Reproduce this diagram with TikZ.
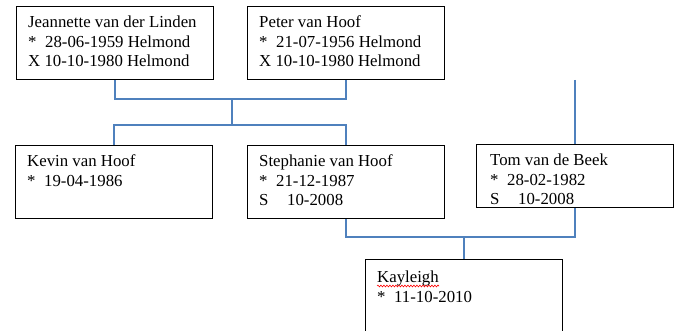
\documentclass[tikz,border=0pt]{standalone}
\usepackage{fontspec}
\setmainfont{Liberation Serif}
\usetikzlibrary{decorations.pathmorphing}

\definecolor{lijnblauw}{RGB}{79,129,189}
\newcommand{\geb}{\makebox[17pt][l]{*}}
\newcommand{\sam}{\makebox[28pt][l]{S}}

\tikzset{
    persoon/.style={draw=black, line width=1.1pt, anchor=north west, inner sep=0pt,
        minimum width=197pt, minimum height=73pt},
    tekst/.style={anchor=north west, inner sep=0pt, align=left,
        font=\fontsize{16.8}{19.3}\selectfont},
    lijn/.style={draw=lijnblauw, line width=1.3pt},
    kronkel/.style={draw=red, line width=0.6pt,
        decorate, decoration={snake, amplitude=0.9pt, segment length=3pt}}
}

\begin{document}
\begin{tikzpicture}[x=1pt, y=-1pt]
        \clip (0,0) rectangle (678,331);

        % ouders
        \node[persoon] (jeannette) at (16,6) {};
        \node[persoon] (peter) at (247,6) {};
        \node[tekst] (jeannette-t) at ([shift={(12,8)}]jeannette.north west)
            {\strut Jeannette van der Linden\\ \geb 28-06-1959 Helmond\\ X 10-10-1980 Helmond};
        \node[tekst] (peter-t) at ([shift={(12,8)}]peter.north west)
            {\strut Peter van Hoof\\ \geb 21-07-1956 Helmond\\ X 10-10-1980 Helmond};

        % kinderen
        \node[persoon] (kevin) at (15,145) {};
        \node[persoon] (stephanie) at (247,145) {};
        \node[persoon, minimum height=63pt] (tom) at (476,144) {};
        \node[tekst] (kevin-t) at ([shift={(12,8)}]kevin.north west)
            {\strut Kevin van Hoof\\ \geb 19-04-1986};
        \node[tekst] (stephanie-t) at ([shift={(12,8)}]stephanie.north west)
            {\strut Stephanie van Hoof\\ \geb 21-12-1987\\ \sam 10-2008};
        \node[tekst] (tom-t) at ([shift={(14,8)}]tom.north west)
            {\strut Tom van de Beek\\ \geb 28-02-1982\\ \sam 10-2008};

        % kleinkind
        \node[persoon] (kayleigh) at (365,259) {};
        \node[tekst] (kayleigh-t) at ([shift={(12,10)}]kayleigh.north west)
            {\strut Kayleigh\\ \geb 11-10-2010};
        \draw[kronkel] ([shift={(0,17)}]kayleigh-t.north west) -- ++(62,0);

        \coordinate (ouders) at (232,99);
        \coordinate (kinderen) at (232,125);
        \coordinate (stel) at (kayleigh.north |- 0,237);
        \coordinate (tomtop) at (tom.north |- 0,80);

        \draw[lijn] (jeannette.south) |- (ouders) -| (peter.south);
        \draw[lijn] (ouders) -- (kinderen);
        \draw[lijn] (kevin.north) |- (kinderen) -| (stephanie.north);
        \draw[lijn] (tomtop) -- (tom.north);
        \draw[lijn] (stephanie.south) |- (stel) -| (tom.south);
        \draw[lijn] (stel) -- (kayleigh.north);
\end{tikzpicture}
\end{document}
